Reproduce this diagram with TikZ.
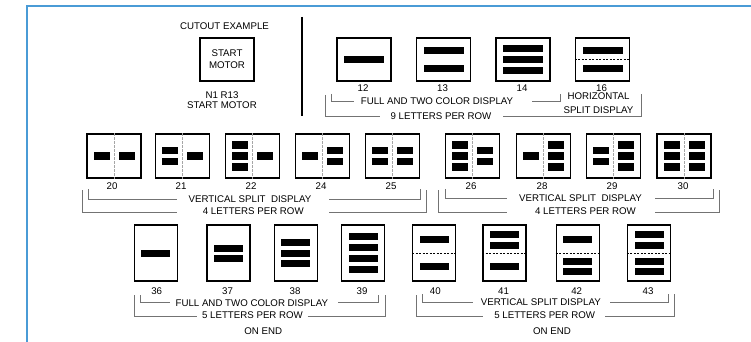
\documentclass[tikz,border=0pt]{standalone}
\usepackage{fontspec}
\setmainfont{Liberation Sans}
\definecolor{frameblue}{HTML}{4A9BD6}
\begin{document}
\begin{tikzpicture}[x=1pt,y=-1pt,font=\fontsize{9.7}{11}\selectfont,
    panel/.style={draw,line width=1.4pt,inner sep=0pt,minimum width=54pt,minimum height=43pt},
    vpanel/.style={panel,minimum height=44pt},
    epanel/.style={panel,minimum width=43pt,minimum height=56pt},
    tbar/.style={fill=black,inner sep=0pt,minimum width=40pt,minimum height=7.5pt},
    vbar/.style={tbar,minimum width=16pt,minimum height=7.4pt},
    ebar/.style={tbar,minimum width=29pt,minimum height=7pt},
    num/.style={inner sep=1pt},
    brk/.style={draw=black!55,line width=0.8pt},
    hsplit/.style={line width=0.5pt,dash pattern=on 2pt off 1.5pt},
    vsplit/.style={draw=black!35,line width=0.8pt,dash pattern=on 2.5pt off 1.5pt}]
    \useasboundingbox (0,0) rectangle (751,342);
    \draw[frameblue,line width=1.5pt] (751,6) -- (27,6) -- (27,342);
    % cutout example
    \node (cuthead) at (224.5,26) {CUTOUT EXAMPLE};
    \node[panel,align=center,font=\fontsize{9.7}{12}\selectfont] (cut) at (227,59.5) {START\\MOTOR};
    \node[align=center,font=\fontsize{9.7}{10.5}\selectfont] (cutname) at (222,100) {N1 R13\\START MOTOR};
    \draw[line width=1.3pt] (302,17) -- (302,116);
    % 9 letters per row
    \node[panel] (p12) at (364,59.5) {};
    \node[panel] (p13) at (443.5,59.5) {};
    \node[panel] (p14) at (523,59.5) {};
    \node[panel] (p16) at (602.5,59.5) {};
    \node[tbar] (b12) at (364,59.5) {};
    \node[tbar] (b13a) at (443.5,50.7) {};
    \node[tbar] (b13b) at (443.5,68.3) {};
    \node[tbar] (b14a) at (523,48.5) {};
    \node[tbar] (b14b) at (523,59.5) {};
    \node[tbar] (b14c) at (523,70.5) {};
    \node[tbar] (b16a) at (602.5,50.7) {};
    \node[tbar] (b16b) at (602.5,68.3) {};
    \draw[hsplit] (p16.west) -- (p16.east);
    \node[num] (n12) at (363,88) {12};
    \node[num] (n13) at (442.5,88) {13};
    \node[num] (n14) at (522,88) {14};
    \node[num] (n16) at (601.5,88) {16};
    \draw[brk] (331,94) |- (353.5,101);
    \node (tfull) at (437,101) {FULL AND TWO COLOR DISPLAY};
    \draw[brk] (532,101) -| (560,94);
    \node[align=center,inner sep=1pt,font=\fontsize{9.7}{13.3}\selectfont] (thsplit) at (598.5,103.2) {HORIZONTAL\\SPLIT DISPLAY};
    \draw[brk] (325,95) |- (380,116.7);
    \node (tnine) at (441,116) {9 LETTERS PER ROW};
    \draw[brk] (503,116.7) -| (641.7,94);
    % 4 letters per row
    \node[vpanel] (p20) at (114,156) {};
    \node[vpanel] (p21) at (182.7,156) {};
    \node[vpanel] (p22) at (252.7,156) {};
    \node[vpanel] (p24) at (322.7,156) {};
    \node[vpanel] (p25) at (392.7,156) {};
    \node[vpanel] (p26) at (472.5,156) {};
    \node[vpanel] (p28) at (543.3,156) {};
    \node[vpanel] (p29) at (613.3,156) {};
    \node[vpanel] (p30) at (684,156) {};
    \draw[vsplit] (p20.north) -- (p20.south);
    \draw[vsplit] (p21.north) -- (p21.south);
    \draw[vsplit] (p22.north) -- (p22.south);
    \draw[vsplit] (p24.north) -- (p24.south);
    \draw[vsplit] (p25.north) -- (p25.south);
    \draw[vsplit] (p26.north) -- (p26.south);
    \draw[vsplit] (p28.north) -- (p28.south);
    \draw[vsplit] (p29.north) -- (p29.south);
    \draw[vsplit] (p30.north) -- (p30.south);
    \node[vbar] (b20a) at (101.5,156) {};
    \node[vbar] (b20b) at (126.5,156) {};
    \node[vbar] (b21a) at (170.2,150.5) {};
    \node[vbar] (b21b) at (170.2,161.5) {};
    \node[vbar] (b21c) at (195.2,156) {};
    \node[vbar] (b22a) at (240.2,145) {};
    \node[vbar] (b22b) at (240.2,156) {};
    \node[vbar] (b22c) at (240.2,167) {};
    \node[vbar] (b22d) at (265.2,156) {};
    \node[vbar] (b24a) at (310.2,156) {};
    \node[vbar] (b24b) at (335.2,150.5) {};
    \node[vbar] (b24c) at (335.2,161.5) {};
    \node[vbar] (b25a) at (380.2,150.5) {};
    \node[vbar] (b25b) at (380.2,161.5) {};
    \node[vbar] (b25c) at (405.2,150.5) {};
    \node[vbar] (b25d) at (405.2,161.5) {};
    \node[vbar] (b26a) at (460,145) {};
    \node[vbar] (b26b) at (460,156) {};
    \node[vbar] (b26c) at (460,167) {};
    \node[vbar] (b26d) at (485,150.5) {};
    \node[vbar] (b26e) at (485,161.5) {};
    \node[vbar] (b28a) at (530.8,156) {};
    \node[vbar] (b28b) at (555.8,145) {};
    \node[vbar] (b28c) at (555.8,156) {};
    \node[vbar] (b28d) at (555.8,167) {};
    \node[vbar] (b29a) at (600.8,150.5) {};
    \node[vbar] (b29b) at (600.8,161.5) {};
    \node[vbar] (b29c) at (625.8,145) {};
    \node[vbar] (b29d) at (625.8,156) {};
    \node[vbar] (b29e) at (625.8,167) {};
    \node[vbar] (b30a) at (671.5,145) {};
    \node[vbar] (b30b) at (671.5,156) {};
    \node[vbar] (b30c) at (671.5,167) {};
    \node[vbar] (b30d) at (696.5,145) {};
    \node[vbar] (b30e) at (696.5,156) {};
    \node[vbar] (b30f) at (696.5,167) {};
    \node[num] (n20) at (112,186) {20};
    \node[num] (n21) at (181,186) {21};
    \node[num] (n22) at (251,186) {22};
    \node[num] (n24) at (321,186) {24};
    \node[num] (n25) at (391,186) {25};
    \node[num] (n26) at (471,186) {26};
    \node[num] (n28) at (542,186) {28};
    \node[num] (n29) at (612,186) {29};
    \node[num] (n30) at (683,186) {30};
    \draw[brk] (88.3,189) |- (177.3,199);
    \node (tvleft) at (250,198.7) {VERTICAL SPLIT\ \ DISPLAY};
    \draw[brk] (329.3,199) -| (420,189);
    \draw[brk] (82.3,190) |- (177.3,212.3);
    \node (tfourleft) at (253.3,211.3) {4 LETTERS PER ROW};
    \draw[brk] (329.3,212.3) -| (426,190);
    \draw[brk] (445,189) |- (507.3,198.5);
    \node (tvright) at (580.5,198.5) {VERTICAL SPLIT\ \ DISPLAY};
    \draw[brk] (655,198.5) -| (713.3,189);
    \draw[brk] (438.3,190) |- (507.3,212.3);
    \node (tfourright) at (585.5,211.3) {4 LETTERS PER ROW};
    \draw[brk] (655,212.3) -| (719,190);
    % 5 letters per row on end
    \node[epanel] (p36) at (155.7,253) {};
    \node[epanel] (p37) at (228.3,253) {};
    \node[epanel] (p38) at (295.8,253) {};
    \node[epanel] (p39) at (363,253) {};
    \node[epanel] (p40) at (434.2,253) {};
    \node[epanel] (p41) at (504.3,253) {};
    \node[epanel] (p42) at (577.7,253) {};
    \node[epanel] (p43) at (649,253) {};
    \node[ebar] (b36) at (155.7,253) {};
    \node[ebar] (b37a) at (228.3,248) {};
    \node[ebar] (b37b) at (228.3,258) {};
    \node[ebar] (b38a) at (295.8,242.2) {};
    \node[ebar] (b38b) at (295.8,253) {};
    \node[ebar] (b38c) at (295.8,263.8) {};
    \node[ebar] (b39a) at (363,236.8) {};
    \node[ebar] (b39b) at (363,247.6) {};
    \node[ebar] (b39c) at (363,258.4) {};
    \node[ebar] (b39d) at (363,269.2) {};
    \node[ebar] (b40a) at (434.2,239.5) {};
    \node[ebar] (b40b) at (434.2,266.5) {};
    \node[ebar] (b41a) at (504.3,234.5) {};
    \node[ebar] (b41b) at (504.3,245.5) {};
    \node[ebar] (b41c) at (504.3,266.5) {};
    \node[ebar] (b42a) at (577.7,239.5) {};
    \node[ebar] (b42b) at (577.7,261.2) {};
    \node[ebar] (b42c) at (577.7,271.8) {};
    \node[ebar] (b43a) at (649,234.5) {};
    \node[ebar] (b43b) at (649,245.5) {};
    \node[ebar] (b43c) at (649,261.2) {};
    \node[ebar] (b43d) at (649,271.8) {};
    \draw[hsplit] (p40.west) -- (p40.east);
    \draw[hsplit] (p41.west) -- (p41.east);
    \draw[hsplit] (p42.west) -- (p42.east);
    \draw[hsplit] (p43.west) -- (p43.east);
    \node[num] (n36) at (156.7,290.7) {36};
    \node[num] (n37) at (227.5,290.7) {37};
    \node[num] (n38) at (295,290.7) {38};
    \node[num] (n39) at (362,290.7) {39};
    \node[num] (n40) at (435.3,290.7) {40};
    \node[num] (n41) at (503.5,290.7) {41};
    \node[num] (n42) at (576.7,290.7) {42};
    \node[num] (n43) at (648,290.7) {43};
    \draw[brk] (140.7,295) |- (170,302.3);
    \node (tfullend) at (251.8,302.8) {FULL AND TWO COLOR DISPLAY};
    \draw[brk] (338.3,302.3) -| (378.3,295);
    \draw[brk] (134,295) |- (196.7,316.7);
    \node (tfiveleft) at (252.5,315.5) {5 LETTERS PER ROW};
    \draw[brk] (307.7,316.7) -| (385,295);
    \node (endleft) at (263.3,330.7) {ON END};
    \draw[brk] (422,294) |- (473.3,302.3);
    \node (tvend) at (540.8,302.5) {VERTICAL SPLIT DISPLAY};
    \draw[brk] (610,302.3) -| (668.3,293.5);
    \draw[brk] (416,295) |- (483.3,316.7);
    \node (tfiveright) at (544.7,315.5) {5 LETTERS PER ROW};
    \draw[brk] (605,316.7) -| (674,294);
    \node (endright) at (552,330.7) {ON END};
\end{tikzpicture}
\end{document}
